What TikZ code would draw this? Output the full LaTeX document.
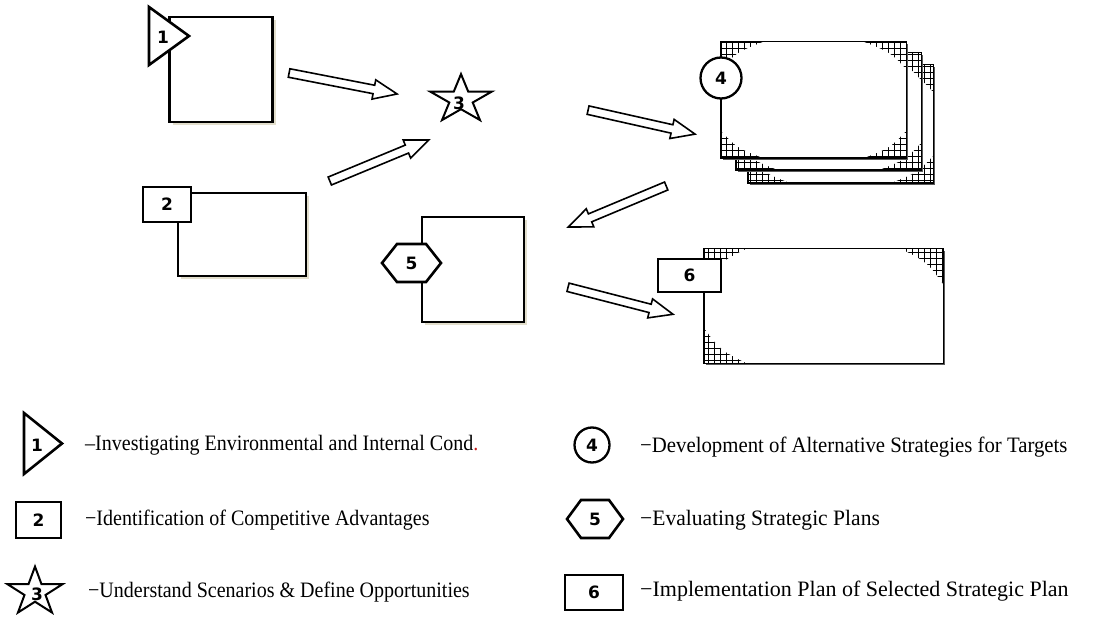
\documentclass[tikz,border=0pt]{standalone}
\usepackage{fontspec}
\setmainfont{Liberation Serif}
\newfontfamily\numfont{DejaVu Sans Bold}
\usetikzlibrary{shapes.arrows,calc,shadows}

\definecolor{boxshadow}{RGB}{226,222,204}
\definecolor{dotred}{RGB}{200,30,30}

\tikzset{
  procbox/.style={rectangle, draw=black, line width=2.2pt, fill=white, inner sep=0pt,
    drop shadow={shadow xshift=3pt, shadow yshift=-3pt, fill=boxshadow, opacity=1}},
  tagline/.style={draw=black, line width=2.6pt, fill=white, line join=miter},
  tagnum/.style={font=\numfont\fontsize{17}{17}\selectfont, inner sep=0pt},
  legtext/.style={anchor=base west, inner sep=0pt, font=\fontsize{22}{26}\selectfont},
  blockarr/.style={single arrow, draw=black, line width=1.6pt, fill=white, inner sep=3.5pt,
    single arrow head extend=5.5pt, single arrow tip angle=45},
  starline/.style={draw=black, line width=2pt, fill=white, line join=miter},
  cardframe/.style={rectangle, inner sep=0pt, fill=white, draw=none},
  cardborder/.style={draw=black, line width=1.4pt},
  cardshade/.style={draw=black!65, line width=1.3pt},
  gridline/.style={black, line width=0.85pt},
}

% five-pointed star outline (y axis points down)
\newcommand\starpath{(270:25.4) -- (306:9.7) -- (342:25.4) -- (18:9.7) -- (54:25.4)
  -- (90:9.7) -- (126:25.4) -- (162:9.7) -- (198:25.4) -- (234:9.7) -- cycle}

% hollow block arrow between two named points
\newcommand\blockarrow[3]{%
  \path let \p1=(#2), \p2=(#3), \n1={atan2(\y2-\y1,\x2-\x1)},
    \n2={veclen(\x2-\x1,\y2-\y1)} in
    node[blockarr, rotate=\n1, minimum height=\n2] (#1) at ($(#2)!0.5!(#3)$) {};}

% card with cross-hatched corners
% #1 name, #2..#5 corners, #6/#7 corner size, #8/#9 bottom-right corner size
\newcommand\cardbox[9]{%
  \pgfmathsetmacro\cardW{#4-#2}\pgfmathsetmacro\cardH{#5-#3}%
  \draw[cardshade] ({#2+2},{#5+1.4}) -- ({#4+1.4},{#5+1.4}) -- ({#4+1.4},{#3+2});
  \node[cardframe, minimum width=\cardW pt, minimum height=\cardH pt] (#1)
    at ({(#2+#4)/2},{(#3+#5)/2}) {};
  \begin{scope}
    \clip (#2,#3) rectangle (#4,#5);
    \draw[gridline, step=6pt] (#2,#5) grid (#4,#3);
    \fill[white] (#2,{#3+#7}) .. controls ({#2+0.38*#6},{#3+0.38*#7}) .. ({#2+#6},#3)
      -- ({#4-#6},#3) .. controls ({#4-0.38*#6},{#3+0.38*#7}) .. (#4,{#3+#7})
      -- (#4,{#5-#9}) .. controls ({#4-0.38*#8},{#5-0.38*#9}) .. ({#4-#8},#5)
      -- ({#2+#6},#5) .. controls ({#2+0.38*#6},{#5-0.38*#7}) .. (#2,{#5-#7}) -- cycle;
  \end{scope}
  \draw[cardborder] (#1.north west) rectangle (#1.south east);
}

\begin{document}
\begin{tikzpicture}[x=1pt, y=-1pt]
\useasboundingbox[fill=white] (0,0) rectangle (1102,617);

% ---- step 1 ----
\node[procbox, minimum width=103pt, minimum height=105pt] (b1) at (221,69.5) {};
\draw[tagline] (149,7) -- (189,36) -- (149,65) -- cycle;
\node[tagnum] (t1) at (163,37) {1};

% ---- step 2 ----
\node[procbox, minimum width=128pt, minimum height=83pt] (b2) at (242,234.5) {};
\node[tagline, rectangle, minimum width=48pt, minimum height=35pt, tagnum] (t2) at (167,204.5) {2};

% ---- step 3 ----
\begin{scope}[shift={(461,99.5)}, xscale=1.27]
  \draw[starline] \starpath;
\end{scope}
\node[tagnum] (s3) at (459,103) {3};

% ---- step 4: stacked cards ----
\cardbox{c4c}{748}{65}{933}{183}{42}{27}{42}{27}
\cardbox{c4b}{736}{53}{921}{170}{42}{27}{42}{27}
\cardbox{c4a}{721}{42}{906}{158}{42}{27}{42}{27}
\node[tagline, circle, line width=2.3pt, minimum size=41pt, tagnum] (t4) at (721,78) {4};

% ---- step 5 ----
\node[procbox, minimum width=102pt, minimum height=105pt] (b5) at (473,269.5) {};
\draw[tagline] (382,263) -- (397,244) -- (426,244) -- (441,263) -- (426,282) -- (397,282) -- cycle;
\node[tagnum] (t5) at (411.5,263) {5};

% ---- step 6 ----
\cardbox{c6}{704}{249}{943}{363}{42}{35}{0}{0}
\node[tagline, rectangle, minimum width=63pt, minimum height=33pt, tagnum] (t6) at (689.5,275.5) {6};

% ---- flow arrows ----
\coordinate (a1s) at (284,72);  \coordinate (a1e) at (392,93);
\coordinate (a2s) at (325,183); \coordinate (a2e) at (424,142);
\coordinate (a3s) at (583,109); \coordinate (a3e) at (690,133);
\coordinate (a4s) at (671,184); \coordinate (a4e) at (573,225);
\coordinate (a5s) at (563,286); \coordinate (a5e) at (668,313);
\blockarrow{ar1}{a1s}{a1e}
\blockarrow{ar2}{a2s}{a2e}
\blockarrow{ar3}{a3s}{a3e}
\blockarrow{ar4}{a4s}{a4e}
\blockarrow{ar5}{a5s}{a5e}

% ---- legend ----
\draw[tagline] (24,413) -- (62,443.5) -- (24,474) -- cycle;
\node[tagnum] (k1) at (37,445) {1};
\node[tagline, rectangle, minimum width=45pt, minimum height=36pt, tagnum] (k2) at (38.5,520) {2};
\begin{scope}[shift={(35,592)}, xscale=1.14]
  \draw[starline] \starpath;
\end{scope}
\node[tagnum] (k3) at (37,594) {3};
\node[tagline, circle, line width=2.3pt, minimum size=35pt, tagnum] (k4) at (592,445) {4};
\draw[tagline] (567,519) -- (581,500) -- (609,500) -- (623,519) -- (609,538) -- (581,538) -- cycle;
\node[tagnum] (k5) at (595,519) {5};
\node[tagline, rectangle, minimum width=58pt, minimum height=35pt, tagnum] (k6) at (594,592.5) {6};

\node[legtext, xscale=0.91] (l1) at (85,450) {–Investigating Environmental and Internal Cond\textcolor{dotred}{.}};
\node[legtext, xscale=0.91] (l2) at (85,525) {−Identification of Competitive Advantages};
\node[legtext, xscale=0.91] (l3) at (88,597) {−Understand Scenarios \& Define Opportunities};
\node[legtext, xscale=0.945] (l4) at (640,452) {−Development of Alternative Strategies for Targets};
\node[legtext, xscale=0.98] (l5) at (640,525) {−Evaluating Strategic Plans};
\node[legtext] (l6) at (640,596) {−Implementation Plan of Selected Strategic Plan};
\end{tikzpicture}
\end{document}
